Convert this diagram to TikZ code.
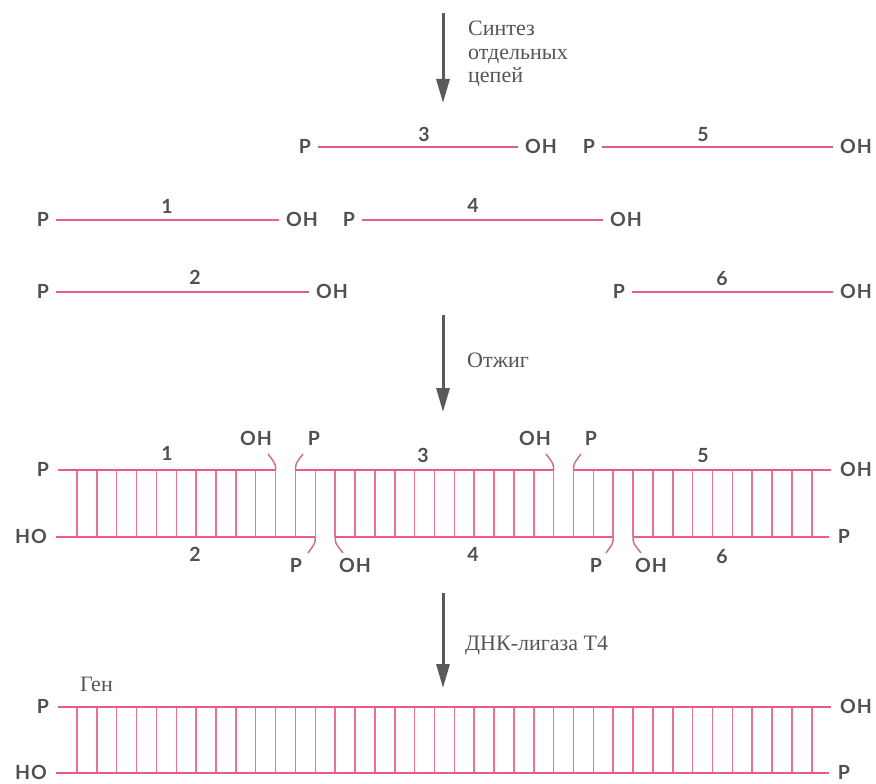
\documentclass[tikz,border=0pt]{standalone}
\usepackage{fontspec}
\setmainfont{Liberation Serif}
\newfontfamily\labfont[LetterSpace=6]{Lato}
\usetikzlibrary{arrows.meta}
\definecolor{strandc}{RGB}{234,92,134}
\definecolor{rungc}{RGB}{236,112,150}
\definecolor{labc}{RGB}{80,80,80}
\definecolor{txtc}{RGB}{85,85,85}
\definecolor{arrc}{RGB}{90,90,90}
\definecolor{tickc}{RGB}{200,115,140}
\begin{document}
\begin{tikzpicture}[x=1pt,y=-1pt,
  lab/.style={font=\labfont\bfseries\fontsize{19.5}{19.5}\selectfont, text=labc, inner sep=0pt, text height=13.5pt, text depth=0pt},
  rus/.style={font=\fontsize{22}{23.5}\selectfont, text=txtc, inner sep=0pt},
  bb/.style={draw=strandc, line width=2pt},
  sgl/.style={bb, shorten <=7pt, shorten >=7pt},
  rungline/.style={draw=rungc, line width=1.5pt},
  tickline/.style={draw=tickc, line width=1.5pt},
  arr/.style={draw=arrc, line width=3pt, -{Triangle[length=24pt,width=13pt]}}]
\useasboundingbox (0,0) rectangle (876,784);

% ---- arrows and captions
\coordinate (a1s) at (443,13);  \coordinate (a1e) at (443,103);
\coordinate (a2s) at (443,315); \coordinate (a2e) at (443,412);
\coordinate (a3s) at (443,593); \coordinate (a3e) at (443,688);
\draw[arr] (a1s) -- (a1e);
\draw[arr] (a2s) -- (a2e);
\draw[arr] (a3s) -- (a3e);
\node[rus, anchor=north west, align=left] (cap1) at (468,21) {Синтез\\отдельных\\цепей};
\node[rus, anchor=base west] (cap2) at (467,367) {Отжиг};
\node[rus, anchor=base west] (cap3) at (465,650) {ДНК-лигаза Т4};
\node[rus, anchor=base west] (gen) at (80,691) {Ген};

% ---- single strands
\node[lab] (p3) at (305,147) {P};  \node[lab] (oh3) at (541,147) {OH};
\node[lab] (p5) at (589,147) {P};  \node[lab] (oh5) at (856,147) {OH};
\node[lab] (p1) at (43,220) {P};   \node[lab] (oh1) at (302,220) {OH};
\node[lab] (p4) at (349,220) {P};  \node[lab] (oh4) at (626,220) {OH};
\node[lab] (p2) at (43,292) {P};   \node[lab] (oh2) at (332,292) {OH};
\node[lab] (p6) at (619,292) {P};  \node[lab] (oh6) at (856,292) {OH};
\draw[sgl] (p3) -- (oh3);
\draw[sgl] (p5) -- (oh5);
\draw[sgl] (p1) -- (oh1);
\draw[sgl] (p4) -- (oh4);
\draw[sgl] (p2) -- (oh2);
\draw[sgl] (p6) -- (oh6);
\node[lab] (s3) at (424,135) {3};
\node[lab] (s5) at (703,135) {5};
\node[lab] (s1) at (167,207) {1};
\node[lab] (s4) at (473,206) {4};
\node[lab] (s2) at (195,278) {2};
\node[lab] (s6) at (722,279) {6};

% ---- annealed duplex
\foreach \k in {0,...,37} {
  \draw[rungline] ({77+19.86*\k},470) -- ({77+19.86*\k},537);
}
\node[lab] (dpl) at (43,470) {P};
\node[lab] (dhol) at (31,537) {HO};
\node[lab] (dohr) at (856,470) {OH};
\node[lab] (dpr) at (844,537) {P};
\coordinate (tA) at (275.6,470); \coordinate (tB) at (295.5,470);
\coordinate (tC) at (553.6,470); \coordinate (tD) at (573.5,470);
\coordinate (bA) at (315.3,537); \coordinate (bB) at (335.2,537);
\coordinate (bC) at (613.2,537); \coordinate (bD) at (633.1,537);
\draw[bb, shorten <=9pt] (dpl) -- (tA);
\draw[bb] (tB) -- (tC);
\draw[bb, shorten >=9pt] (tD) -- (dohr);
\draw[bb, shorten <=9pt] (dhol) -- (bA);
\draw[bb] (bB) -- (bC);
\draw[bb, shorten >=9pt] (bD) -- (dpr);
% nick labels
\node[lab] (nA) at (256,439) {OH};
\node[lab] (nB) at (314,439) {P};
\node[lab] (nC) at (535,439) {OH};
\node[lab] (nD) at (591,439) {P};
\node[lab] (mA) at (296,566) {P};
\node[lab] (mB) at (355,566) {OH};
\node[lab] (mC) at (596,566) {P};
\node[lab] (mD) at (651,566) {OH};
\coordinate (eA) at (268,454); \coordinate (eB) at (303,454);
\coordinate (eC) at (546,454); \coordinate (eD) at (581,454);
\coordinate (fA) at (308,553); \coordinate (fB) at (343,553);
\coordinate (fC) at (606,553); \coordinate (fD) at (641,553);
\draw[tickline] (tA) .. controls ([yshift=6pt]tA) .. (eA);
\draw[tickline] (tB) .. controls ([yshift=6pt]tB) .. (eB);
\draw[tickline] (tC) .. controls ([yshift=6pt]tC) .. (eC);
\draw[tickline] (tD) .. controls ([yshift=6pt]tD) .. (eD);
\draw[tickline] (bA) .. controls ([yshift=-6pt]bA) .. (fA);
\draw[tickline] (bB) .. controls ([yshift=-6pt]bB) .. (fB);
\draw[tickline] (bC) .. controls ([yshift=-6pt]bC) .. (fC);
\draw[tickline] (bD) .. controls ([yshift=-6pt]bD) .. (fD);
\node[lab] (d1) at (167,454) {1};
\node[lab] (d3) at (423,456) {3};
\node[lab] (d5) at (703,456) {5};
\node[lab] (d2) at (195,555) {2};
\node[lab] (d4) at (473,555) {4};
\node[lab] (d6) at (722,557) {6};

% ---- ligated gene
\foreach \k in {0,...,37} {
  \draw[rungline] ({77+19.86*\k},707) -- ({77+19.86*\k},773);
}
\node[lab] (gpl) at (43,707) {P};
\node[lab] (ghol) at (31,773) {HO};
\node[lab] (gohr) at (856,707) {OH};
\node[lab] (gpr) at (844,773) {P};
\draw[bb, shorten <=9pt, shorten >=9pt] (gpl) -- (gohr);
\draw[bb, shorten <=9pt, shorten >=9pt] (ghol) -- (gpr);
\end{tikzpicture}
\end{document}
